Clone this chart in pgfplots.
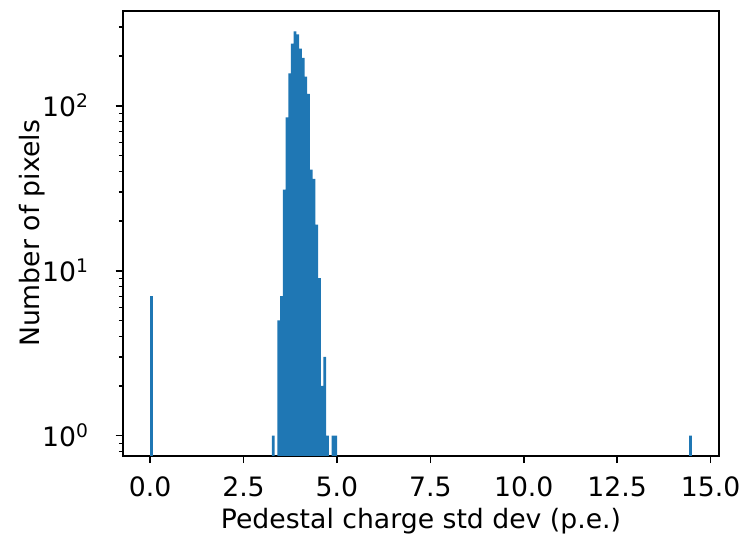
\documentclass[border=0pt]{standalone}
\usepackage{fontspec}
\setmainfont{DejaVu Sans}
\usepackage{pgfplots}
\pgfplotsset{compat=1.18}
\definecolor{mplblue}{HTML}{1F77B4}

\begin{document}
\begin{tikzpicture}[font=\fontsize{12.85}{15}\selectfont]
  \begin{axis}[
    name=ax,
    width=286.08bp, height=213.6bp,
    scale only axis,
    ymode=log, log basis y=10,
    log origin y=infty,
    xmin=-0.725, xmax=15.225,
    ymin=0.753, ymax=375,
    axis line style={line width=0.8bp},
    tick align=outside,
    tick pos=left,
    major tick length=3.5bp,
    minor tick length=2bp,
    every tick/.style={black, line width=0.8bp},
    every minor tick/.style={black, line width=0.6bp},
    xtick={0,2.5,5,7.5,10,12.5,15},
    xticklabel style={
      /pgf/number format/fixed,
      /pgf/number format/precision=1,
      /pgf/number format/fixed zerofill,
      /pgf/number format/assume math mode=true,
      inner sep=0pt, anchor=north, yshift=-6.4bp},
    ytick={1,10,100},
    yticklabels={10\textsuperscript{0},10\textsuperscript{1},10\textsuperscript{2}},
    minor ytick={0.8,0.9,2,3,4,5,6,7,8,9,20,30,40,50,60,70,80,90,200,300},
    yticklabel style={inner sep=0pt, anchor=east, xshift=-12.6bp},
    xlabel={Pedestal charge std dev (p.e.)},
    ylabel={Number of pixels},
    xlabel style={at={([yshift=-34.6bp]axis description cs:0.5,0)}, anchor=base},
    ylabel style={at={([xshift=-40.3bp]axis description cs:0,0.5)}, anchor=base, rotate=0},
  ]
    % histogram, bin width 0.0725, counts per bin (empty bins left out)
    \addplot[ybar, bar width=0.0725, fill=mplblue, draw=none]
      coordinates {
        (0.03625,7)
        (3.29875,1)
        (3.44375,5) (3.51625,7) (3.58875,31) (3.66125,85)
        (3.73375,157) (3.80625,238) (3.87875,282) (3.95125,271)
        (4.02375,222) (4.09625,195) (4.16875,150) (4.24125,118)
        (4.31375,41) (4.38625,36) (4.45875,19) (4.53125,9)
        (4.60375,2) (4.67625,3) (4.74875,1)
        (4.89375,1) (4.96625,1)
        (14.46375,1)
      };
  \end{axis}
  \path ([shift={(-59.04bp,-38.4bp)}]ax.south west) rectangle ([shift={(13.44bp,5.28bp)}]ax.north east);
\end{tikzpicture}
\end{document}
